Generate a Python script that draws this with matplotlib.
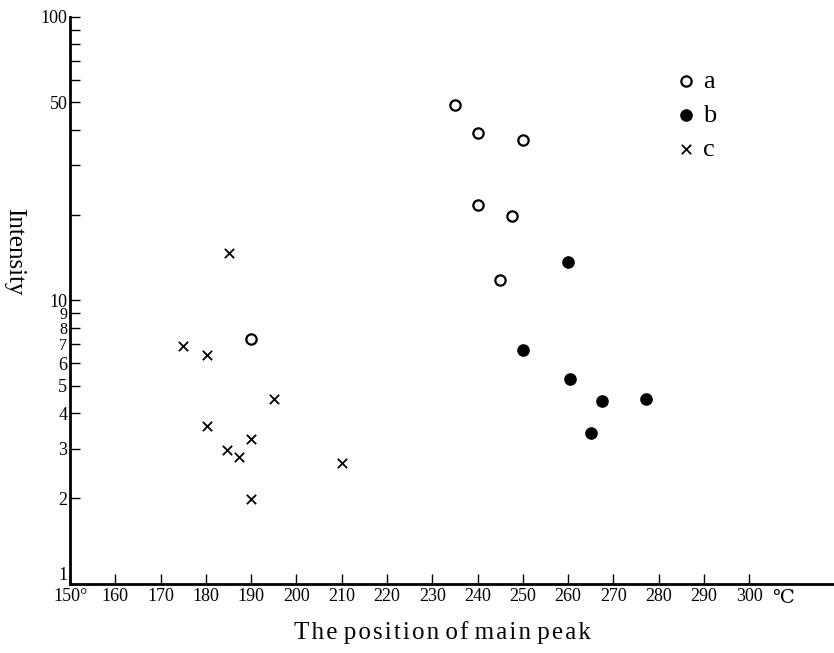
import matplotlib
matplotlib.use('Agg')
import matplotlib.pyplot as plt
import numpy as np

plt.rcParams['font.family'] = ['Liberation Serif', 'DejaVu Serif', 'DejaVu Sans']

# series a : open circles
a_x = [235, 240, 250, 240, 247.5, 245, 190]
a_y = [48.9, 39.0, 36.8, 21.7, 19.9, 11.8, 7.3]

# series b : filled circles
b_x = [260, 250, 260.3, 267.4, 277.2, 265]
b_y = [13.7, 6.7, 5.3, 4.4, 4.5, 3.4]

# series c : crosses
c_x = [185, 175, 180.3, 195, 180.3, 190, 184.7, 187.2, 210, 190]
c_y = [14.7, 6.9, 6.4, 4.5, 3.6, 3.24, 2.97, 2.8, 2.67, 1.99]

x_ticks = list(range(150, 301, 10))
x_labels = ['150°'] + [str(t) for t in x_ticks[1:]]
y_ticks = [1, 2, 3, 4, 5, 6, 7, 8, 9, 10, 20, 30, 40, 50, 60, 70, 80, 90, 100]
y_labels = ['1', '2', '3', '4', '5', '6', '7', '8', '9', '10', '', '', '', '50', '', '', '', '', '100']

fig = plt.figure(figsize=(8.34, 6.53), dpi=100)
ax = fig.add_axes([0.084, 0.106, 0.916, 0.868])

ax.scatter(a_x, a_y, s=55, facecolors='white', edgecolors='black', linewidths=1.6, label='a', zorder=3)
ax.scatter(b_x, b_y, s=65, color='black', label='b', zorder=3)
ax.scatter(c_x, c_y, s=45, marker='x', color='black', linewidths=1.3, label='c', zorder=3)

ax.set_yscale('log')
ax.set_xlim(150, 318.7)
ax.set_ylim(1, 100)

ax.set_xticks(x_ticks)
ax.set_xticklabels(x_labels, fontsize=13)
ax.set_yticks(y_ticks)
ax.set_yticklabels(y_labels, fontsize=13)
ax.minorticks_off()
ax.tick_params(axis='both', direction='in', length=7, width=1, pad=2)
ax.tick_params(axis='x', pad=3)
ylabs = ax.get_yticklabels()
ylabs[0].set_va('bottom')
for lab in ylabs[6:9]:
    lab.set_fontsize(11.5)

ax.text(307.5, -0.01, '℃', transform=ax.get_xaxis_transform(), fontsize=14,
        ha='center', va='top', family=['DejaVu Serif', 'DejaVu Sans'])

for side in ['top', 'right']:
    ax.spines[side].set_visible(False)
ax.spines['left'].set_linewidth(2)
ax.spines['bottom'].set_linewidth(2)

xlab = ' '.join('\u200a'.join(w) for w in 'The position of main peak'.split())
ax.set_xlabel(xlab, fontsize=18)
ax.xaxis.set_label_coords(0.488, -0.065)
ax.set_ylabel('Intensity', fontsize=18, rotation=270)
ax.yaxis.set_label_coords(-0.088, 0.585)

ax.legend(loc='upper left', bbox_to_anchor=(0.754, 0.95), frameon=False, fontsize=19,
          handletextpad=0.05, labelspacing=0.4, handlelength=1.2)

fig.savefig('out.png', dpi=100)
